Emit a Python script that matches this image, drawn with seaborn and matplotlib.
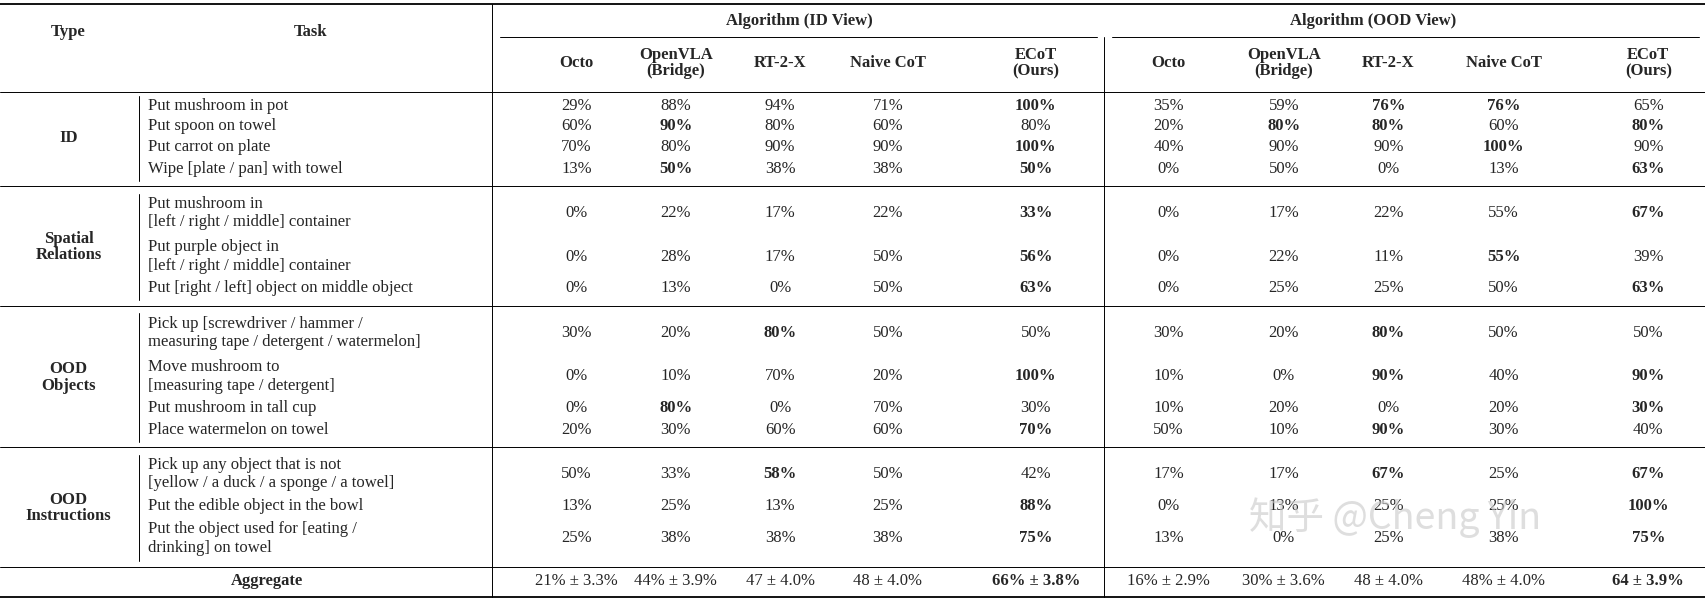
import matplotlib
matplotlib.use("Agg")
import matplotlib.pyplot as plt
import seaborn as sns

sns.set_theme(style="white")
plt.rcParams['font.family'] = ['Liberation Serif', 'DejaVu Serif']

models = ["Octo", "OpenVLA\n(Bridge)", "RT-2-X", "Naive CoT", "ECoT\n(Ours)"]
groups = ["ID", "Spatial\nRelations", "OOD\nObjects", "OOD\nInstructions"]
tasks = [
    ["Put mushroom in pot", "Put spoon on towel", "Put carrot on plate", "Wipe [plate / pan] with towel"],
    ["Put mushroom in\n[left / right / middle] container",
     "Put purple object in\n[left / right / middle] container",
     "Put [right / left] object on middle object"],
    ["Pick up [screwdriver / hammer /\nmeasuring tape / detergent / watermelon]",
     "Move mushroom to\n[measuring tape / detergent]",
     "Put mushroom in tall cup", "Place watermelon on towel"],
    ["Pick up any object that is not\n[yellow / a duck / a sponge / a towel]",
     "Put the edible object in the bowl",
     "Put the object used for [eating /\ndrinking] on towel"],
]
# "*" marks bold (best) entries; first 5 ID view, last 5 OOD view
values = [
    ["29", "88", "94", "71", "*100", "35", "59", "*76", "*76", "65"],
    ["60", "*90", "80", "60", "80", "20", "*80", "*80", "60", "*80"],
    ["70", "80", "90", "90", "*100", "40", "90", "90", "*100", "90"],
    ["13", "*50", "38", "38", "*50", "0", "50", "0", "13", "*63"],
    ["0", "22", "17", "22", "*33", "0", "17", "22", "55", "*67"],
    ["0", "28", "17", "50", "*56", "0", "22", "11", "*55", "39"],
    ["0", "13", "0", "50", "*63", "0", "25", "25", "50", "*63"],
    ["30", "20", "*80", "50", "50", "30", "20", "*80", "50", "50"],
    ["0", "10", "70", "20", "*100", "10", "0", "*90", "40", "*90"],
    ["0", "*80", "0", "70", "30", "10", "20", "0", "20", "*30"],
    ["20", "30", "60", "60", "*70", "50", "10", "*90", "30", "40"],
    ["50", "33", "*58", "50", "42", "17", "17", "*67", "25", "*67"],
    ["13", "25", "13", "25", "*88", "0", "13", "25", "25", "*100"],
    ["25", "38", "38", "38", "*75", "13", "0", "25", "38", "*75"],
]
aggregate = ["21% ± 3.3%", "44% ± 3.9%", "47 ± 4.0%", "48 ± 4.0%", "*66% ± 3.8%",
             "16% ± 2.9%", "30% ± 3.6%", "48 ± 4.0%", "48% ± 4.0%", "*64 ± 3.9%"]

# work in a 1568 x 559 coordinate frame, drawn at 1706 x 608 pixels
W, H = 1568, 559
fig = plt.figure(figsize=(17.06, 6.08), dpi=100)
ax = fig.add_axes([0, 0, 1, 1])
ax.set_xlim(0, W)
ax.set_ylim(H, 0)
ax.axis("off")
fs = 12

col_x = [530, 621, 717, 816, 952, 1074, 1180, 1276, 1382, 1515]
row_y = [97, 116, 135, 155, 196, 236, 265, 306, 346, 375, 395, 436, 465, 495]
group_y = [(88, 166), (178, 276), (288, 406), (418, 516)]

# header
ax.text(63, 29, "Type", ha="center", va="center", fontsize=fs, weight="bold")
ax.text(285, 29, "Task", ha="center", va="center", fontsize=fs, weight="bold")
ax.text(735, 19, "Algorithm (ID View)", ha="center", va="center", fontsize=fs, weight="bold")
ax.text(1262, 19, "Algorithm (OOD View)", ha="center", va="center", fontsize=fs, weight="bold")
for i, x in enumerate(col_x):
    ax.text(x, 58, models[i % 5], ha="center", va="center", fontsize=fs,
            weight="bold", linespacing=1.0)

# lines
lw_thick, lw_thin = 1.3, 0.7
ax.plot([0, W], [4, 4], color="black", lw=lw_thick)
ax.plot([460, 1008], [34, 34], color="black", lw=lw_thin)
ax.plot([1022, 1562], [34, 34], color="black", lw=lw_thin)
for y in [85, 171, 281, 411, 521]:
    ax.plot([0, W], [y, y], color="black", lw=lw_thin)
ax.plot([0, W], [549, 549], color="black", lw=lw_thick)
ax.plot([452, 452], [4, 549], color="black", lw=lw_thin)
ax.plot([1015, 1015], [34, 549], color="black", lw=lw_thin)
for (y0, y1), g in zip(group_y, groups):
    ax.plot([128, 128], [y0, y1], color="black", lw=lw_thin)
    ax.text(63, (y0 + y1) / 2, g, ha="center", va="center", fontsize=fs,
            weight="bold", linespacing=1.05)

# body
flat_tasks = [t for grp in tasks for t in grp]
for task, y, vals in zip(flat_tasks, row_y, values):
    ax.text(136, y, task, ha="left", va="center", fontsize=fs, linespacing=1.2)
    for x, v in zip(col_x, vals):
        bold = v.startswith("*")
        ax.text(x, y, v.lstrip("*") + "%", ha="center", va="center", fontsize=fs,
                weight="bold" if bold else "normal")

ax.text(245, 534, "Aggregate", ha="center", va="center", fontsize=fs, weight="bold")
for x, v in zip(col_x, aggregate):
    bold = v.startswith("*")
    ax.text(x, 534, v.lstrip("*"), ha="center", va="center", fontsize=fs,
            weight="bold" if bold else "normal")

# watermark
ax.text(1282, 476, "知乎 @Cheng Yin", ha="center", va="center", fontsize=27,
        color="#c8c8c8", alpha=0.6, family=["Noto Sans CJK SC", "DejaVu Sans"])

fig.savefig("out.png", dpi=100)
